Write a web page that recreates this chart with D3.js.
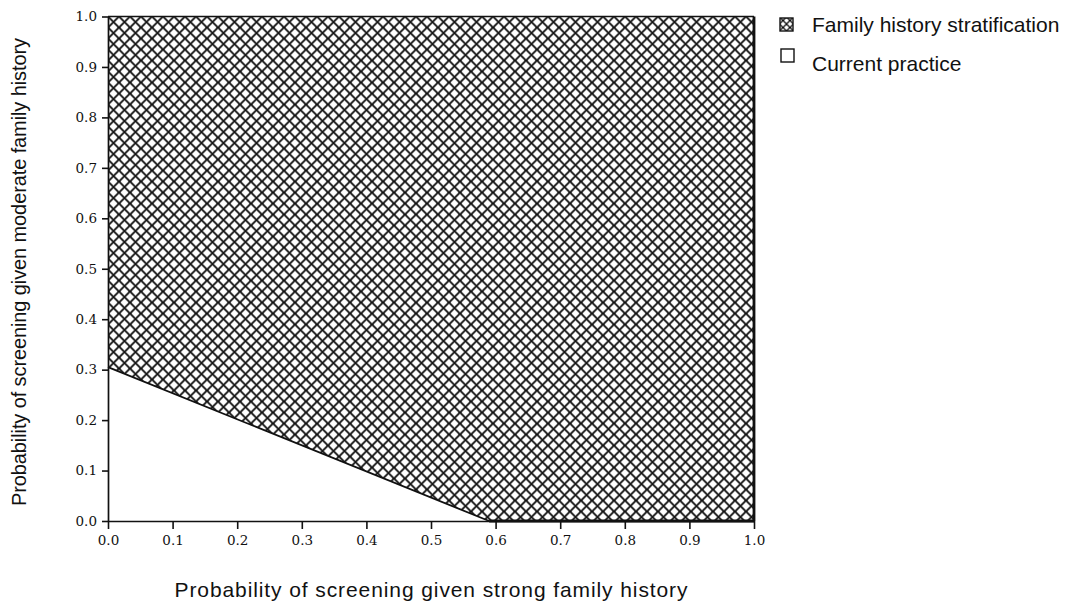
<!DOCTYPE html>
<html>
<head>
<meta charset="utf-8">
<script src="https://cdn.jsdelivr.net/npm/d3@7"></script>
<style>
  body { margin: 0; background: #fff; }
  svg { display: block; }
</style>
</head>
<body>
<div id="chart"></div>
<script>
// данные графика
const xTicks = [0, 0.1, 0.2, 0.3, 0.4, 0.5, 0.6, 0.7, 0.8, 0.9, 1.0];
const yTicks = [0, 0.1, 0.2, 0.3, 0.4, 0.5, 0.6, 0.7, 0.8, 0.9, 1.0];
// граница между областями: (strong, moderate)
const boundary = [[0, 0.305], [0.59, 0]];
const legendLabels = ["Family history stratification", "Current practice"];
const xLabel = "Probability of screening given strong family history";
const yLabel = "Probability of screening given moderate family history";

const width = 1069, height = 604;
const margin = { left: 108, right: 315, top: 16.5, bottom: 83 };

const svg = d3.select("#chart").append("svg")
    .attr("width", width)
    .attr("height", height);

const x = d3.scaleLinear().domain([0, 1]).range([margin.left, width - margin.right]);
const y = d3.scaleLinear().domain([0, 1]).range([height - margin.bottom, margin.top]);

// штриховка
const P = 11;
const defs = svg.append("defs");
function makeHatch(id, size, sw) {
    const pat = defs.append("pattern")
        .attr("id", id)
        .attr("patternUnits", "userSpaceOnUse")
        .attr("x", x(0))
        .attr("y", y(1))
        .attr("width", size)
        .attr("height", size);
    pat.append("rect").attr("width", size).attr("height", size).attr("fill", "#fff");
    const h = size / 2;
    pat.append("path")
        .attr("d", `M0,0L${size},${size}M0,${size}L${size},0` +
            `M${-h},${h}L${h},${size + h}M${h},${-h}L${size + h},${h}` +
            `M${-h},${h}L${h},${-h}M${h},${size + h}L${size + h},${h}`)
        .attr("stroke", "#111")
        .attr("stroke-width", sw)
        .attr("fill", "none");
}
makeHatch("hatch", P, 1.9);
makeHatch("hatchLegend", 7, 1.3);

// область стратификации (выше границы)
const regionPts = [
    [0, 1], [1, 1], [1, 0], boundary[1], boundary[0]
];
svg.append("path")
    .attr("d", d3.line().x(d => x(d[0])).y(d => y(d[1]))(regionPts) + "Z")
    .attr("fill", "url(#hatch)");

// граница
svg.append("path")
    .attr("d", d3.line().x(d => x(d[0])).y(d => y(d[1]))(boundary))
    .attr("stroke", "#111")
    .attr("stroke-width", 1.8)
    .attr("fill", "none");

// рамка: верх и право
svg.append("line")
    .attr("x1", x(0)).attr("x2", x(1))
    .attr("y1", y(1)).attr("y2", y(1))
    .attr("stroke", "#111").attr("stroke-width", 1.6);
svg.append("line")
    .attr("x1", x(1)).attr("x2", x(1))
    .attr("y1", y(1)).attr("y2", y(0))
    .attr("stroke", "#111").attr("stroke-width", 2.8);
svg.append("line")
    .attr("x1", x(boundary[1][0])).attr("x2", x(1))
    .attr("y1", y(0)).attr("y2", y(0))
    .attr("stroke", "#111").attr("stroke-width", 2.8);

// оси
const tickFont = "'DejaVu Serif', 'Liberation Serif', serif";
const xAxis = svg.append("g")
    .attr("transform", `translate(0,${y(0)})`)
    .call(d3.axisBottom(x).tickValues(xTicks).tickSize(8).tickSizeOuter(0)
        .tickFormat(d3.format(".1f")));
const yAxis = svg.append("g")
    .attr("transform", `translate(${x(0)},0)`)
    .call(d3.axisLeft(y).tickValues(yTicks).tickSize(6).tickSizeOuter(0)
        .tickFormat(d3.format(".1f")));

[xAxis, yAxis].forEach(a => {
    a.select(".domain").attr("stroke", "#111").attr("stroke-width", 1.7);
    a.selectAll(".tick line").attr("stroke", "#111").attr("stroke-width", 1.6);
    a.selectAll("text")
        .attr("fill", "#111")
        .style("font-family", tickFont)
        .style("font-size", "13.5px");
});
xAxis.selectAll("text").attr("dy", "0.71em").attr("y", 14);
yAxis.selectAll("text").attr("x", -11);

// подписи осей
const labelFont = "'Liberation Sans', Arial, sans-serif";
svg.append("text")
    .attr("x", 431)
    .attr("y", 597)
    .attr("text-anchor", "middle")
    .style("font-family", labelFont)
    .style("font-size", "21px")
    .attr("textLength", 513)
    .attr("fill", "#111")
    .text(xLabel);
svg.append("text")
    .attr("transform", `translate(26,272) rotate(-90)`)
    .attr("text-anchor", "middle")
    .style("font-family", labelFont)
    .style("font-size", "20px")
    .attr("textLength", 468)
    .attr("fill", "#111")
    .text(yLabel);

// легенда
const legend = svg.append("g").attr("transform", "translate(780,18)");
legendLabels.forEach((lab, i) => {
    const g = legend.append("g").attr("transform", `translate(0,${i * 32})`);
    g.append("rect")
        .attr("x", i === 0 ? 0 : 1).attr("y", i === 0 ? 0 : -1)
        .attr("width", 13).attr("height", 13)
        .attr("fill", i === 0 ? "url(#hatchLegend)" : "#fff")
        .attr("stroke", "#111")
        .attr("stroke-width", 1.4);
    g.append("text")
        .attr("x", 32)
        .attr("y", i === 0 ? 14 : 21)
        .style("font-family", labelFont)
        .style("font-size", "21px")
        .attr("fill", "#111")
        .text(lab);
});
</script>
</body>
</html>
